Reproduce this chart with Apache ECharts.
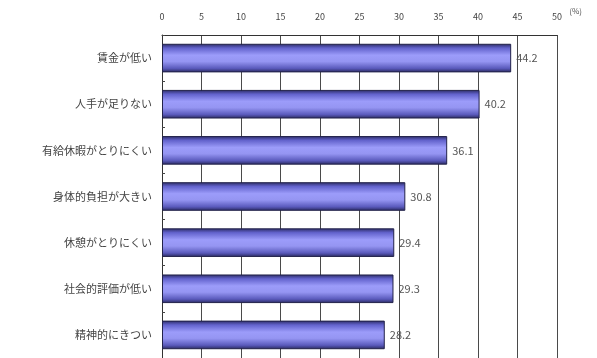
<!DOCTYPE html>
<html>
<head>
<meta charset="utf-8">
<script src="https://cdn.jsdelivr.net/npm/echarts@6/dist/echarts.min.js"></script>
<style>
html, body { margin: 0; padding: 0; background: #fff; }
#chart { width: 597px; height: 358px; }
</style>
</head>
<body>
<div id="chart"></div>
<script>
// Reasons given (percent), top to bottom
const categories = ['賃金が低い', '人手が足りない', '有給休暇がとりにくい', '身体的負担が大きい', '休憩がとりにくい', '社会的評価が低い', '精神的にきつい'];
const values = [44.2, 40.2, 36.1, 30.8, 29.4, 29.3, 28.2];
const axisMin = 0;
const axisMax = 50;
const axisStep = 5;
const unitLabel = '(%)';

const font = '"Noto Sans CJK JP", "Noto Sans", sans-serif';
const chart = echarts.init(document.getElementById('chart'), null, { renderer: 'canvas' });

chart.setOption({
  animation: false,
  backgroundColor: '#ffffff',
  title: {
    text: unitLabel,
    right: 10,
    top: 2,
    textStyle: { fontSize: 8, fontWeight: 'normal', color: '#555', fontFamily: font }
  },
  grid: { left: 162, right: 40, top: 35, bottom: 0 },
  xAxis: {
    type: 'value',
    position: 'top',
    min: axisMin,
    max: axisMax,
    interval: axisStep,
    axisLine: { show: true, lineStyle: { color: '#333', width: 1 } },
    axisTick: { show: false },
    axisLabel: { fontSize: 9, color: '#444', margin: 14, fontFamily: font },
    splitLine: { show: true, lineStyle: { color: '#4a4a4a', width: 1 } }
  },
  yAxis: {
    type: 'category',
    inverse: true,
    data: categories,
    axisLine: { show: true, lineStyle: { color: '#333', width: 1 } },
    axisTick: { show: true, inside: true, length: 3, lineStyle: { color: '#444' } },
    axisLabel: { fontSize: 11, color: '#444', margin: 10, fontFamily: font }
  },
  series: [{
    type: 'bar',
    data: values,
    barWidth: '62%',
    itemStyle: {
      borderColor: '#22224a',
      borderWidth: 1,
      color: new echarts.graphic.LinearGradient(0, 0, 0, 1, [
        { offset: 0, color: '#2a2a62' },
        { offset: 0.15, color: '#6262cc' },
        { offset: 0.4, color: '#9c9cfa' },
        { offset: 0.62, color: '#9595f2' },
        { offset: 0.86, color: '#5a5abc' },
        { offset: 1, color: '#28285c' }
      ])
    },
    label: {
      show: true,
      position: 'right',
      distance: 5,
      fontSize: 11,
      color: '#555',
      fontFamily: font,
      formatter: p => p.value.toFixed(1)
    }
  }]
});
</script>
</body>
</html>
